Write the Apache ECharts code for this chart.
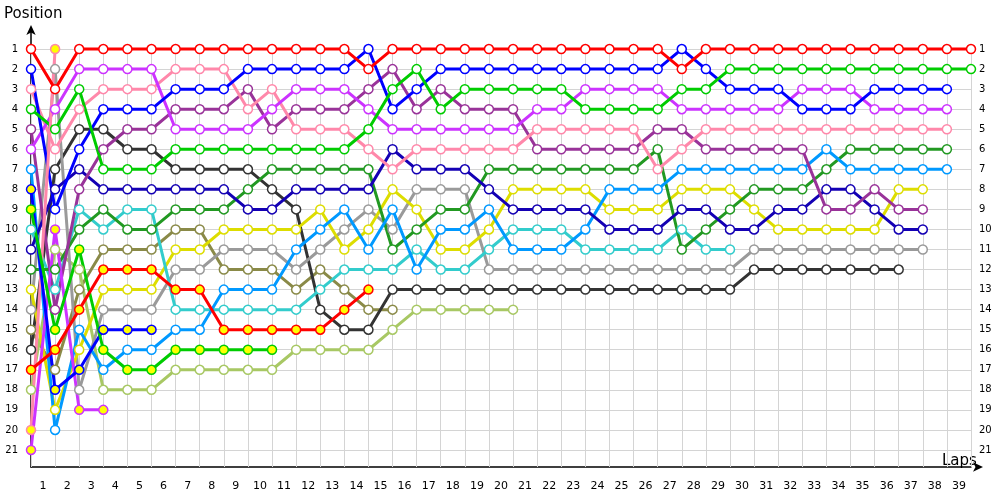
<!DOCTYPE html>
<html>
<head>
<meta charset="utf-8">
<script src="https://cdn.jsdelivr.net/npm/echarts@6/dist/echarts.min.js"></script>
<style>html,body{margin:0;padding:0;background:#fff;}#c{width:1000px;height:500px;}</style>
</head>
<body>
<div id="c"></div>
<script>
// Laps (x values of points), lap 0 = start grid
const laps = [0,1,2,3,4,5,6,7,8,9,10,11,12,13,14,15,16,17,18,19,20,21,22,23,24,25,26,27,28,29,30,31,32,33,34,35,36,37,38,39];
// Lap tick labels (centred between lap lines)
const lapLabels = ['1','2','3','4','5','6','7','8','9','10','11','12','13','14','15','16','17','18','19','20','21','22','23','24','25','26','27','28','29','30','31','32','33','34','35','36','37','38','39'];
// Position tick labels
const posLabels = [1,2,3,4,5,6,7,8,9,10,11,12,13,14,15,16,17,18,19,20,21];

// Positions per lap (index = lap), white-marker drivers
const red1   = [1,3,1,1,1,1,1,1,1,1,1,1,1,1,2,1,1,1,1,1,1,1,1,1,1,1,1,2,1,1,1,1,1,1,1,1,1,1,1,1];
const green1 = [4,5,3,7,7,7,6,6,6,6,6,6,6,6,5,3,2,4,3,3,3,3,3,4,4,4,4,3,3,2,2,2,2,2,2,2,2,2,2,2];
const blue1  = [2,9,6,4,4,4,3,3,3,2,2,2,2,2,1,4,3,2,2,2,2,2,2,2,2,2,2,1,2,3,3,3,4,4,4,3,3,3,3];
const violet1= [6,4,2,2,2,2,5,5,5,5,4,3,3,3,4,5,5,5,5,5,5,4,4,3,3,3,3,4,4,4,4,4,3,3,3,4,4,4,4];
const pink1  = [3,6,4,3,3,3,2,2,2,4,3,5,5,5,6,7,6,6,6,6,6,5,5,5,5,5,7,6,5,5,5,5,5,5,5,5,5,5,5];
const purple = [5,14,8,6,5,5,4,4,4,3,5,4,4,4,3,2,4,3,4,4,4,6,6,6,6,6,5,5,6,6,6,6,6,9,9,8,9,9];
const navy   = [11,8,7,8,8,8,8,8,8,9,9,8,8,8,8,6,7,7,7,8,9,9,9,9,10,10,10,9,9,10,10,9,9,8,8,9,10,10];
const lblue  = [7,20,15,17,16,16,15,15,13,13,13,11,10,9,11,9,12,10,10,9,11,11,11,10,8,8,8,7,7,7,7,7,7,6,7,7,7,7,7];
const dgreen = [12,12,10,9,10,10,9,9,9,8,7,7,7,7,7,11,10,9,9,7,7,7,7,7,7,7,6,11,10,9,8,8,8,7,6,6,6,6,6];
const cyan   = [10,13,9,10,9,9,14,14,14,14,14,14,13,12,12,12,11,12,12,11,10,10,10,11,11,11,11,10,11,11];
const yellow = [13,19,16,13,13,13,11,11,10,10,10,10,9,11,10,8,9,11,11,10,8,8,8,8,9,9,9,8,8,8,9,10,10,10,10,10,8,8];
const grey   = [14,2,18,14,14,14,12,12,11,11,11,12,11,10,9,10,8,8,8,12,12,12,12,12,12,12,12,12,12,12,11,11,11,11,11,11,11,11];
const black  = [16,7,5,5,6,6,7,7,7,7,8,9,14,15,15,13,13,13,13,13,13,13,13,13,13,13,13,13,13,13,12,12,12,12,12,12,12];
const olive  = [15,17,13,11,11,11,10,10,12,12,12,13,12,13,14,14];
const lgreen = [18,11,12,18,18,18,17,17,17,17,17,16,16,16,16,15,14,14,14,14,14];
// yellow-marker drivers (team-mates)
const red2   = [17,16,14,12,12,12,13,13,15,15,15,15,15,14,13];
const blue2  = [8,18,17,15,15,15];
const green2 = [9,15,11,16,17,17,16,16,16,16,16];
const violet2= [21,10,19,19];
const pink2  = [20,1];

const drivers = [
  {d: olive,   c:'#8a8a48', f:'#ffffff'},
  {d: lgreen,  c:'#a8c864', f:'#ffffff'},
  {d: black,   c:'#333333', f:'#ffffff'},
  {d: grey,    c:'#9a9a9a', f:'#ffffff'},
  {d: yellow,  c:'#dddd00', f:'#ffffff'},
  {d: cyan,    c:'#33cccc', f:'#ffffff'},
  {d: dgreen,  c:'#229922', f:'#ffffff'},
  {d: lblue,   c:'#0099ff', f:'#ffffff'},
  {d: navy,    c:'#1400b4', f:'#ffffff'},
  {d: purple,  c:'#993399', f:'#ffffff'},
  {d: pink1,   c:'#ff88aa', f:'#ffffff'},
  {d: violet1, c:'#cc33ff', f:'#ffffff'},
  {d: blue1,   c:'#0000ff', f:'#ffffff'},
  {d: green1,  c:'#00cc00', f:'#ffffff'},
  {d: pink2,   c:'#ff88aa', f:'#ffff00'},
  {d: violet2, c:'#cc33ff', f:'#ffff00'},
  {d: blue2,   c:'#0000ff', f:'#ffff00'},
  {d: green2,  c:'#00cc00', f:'#ffff00'},
  {d: red2,    c:'#ff0000', f:'#ffff00'},
  {d: red1,    c:'#ff0000', f:'#ffffff'}
];

const FONT = 'DejaVu Sans';
const GRID_TOP_POS = 0.75;   // where the vertical lap lines start
const GRID_BOTTOM_POS = 21.85;
const GRID_COLOR = '#d4d4d4';
const chart = echarts.init(document.getElementById('c'), null, {renderer:'canvas'});

const series = drivers.map(s => ({
  type: 'line',
  xAxisIndex: 0, yAxisIndex: 0,
  z: 3,
  data: s.d.map((p, i) => [laps[i], p]),
  symbol: 'circle',
  symbolSize: 9,
  showAllSymbol: true,
  lineStyle: {color: s.c, width: 3},
  itemStyle: {color: s.f, borderColor: s.c, borderWidth: 1.5},
  emphasis: {disabled: true},
  silent: true,
  animation: false
}));

// vertical lap grid lines (start slightly above position 1, like the reference)
series.unshift({
  type: 'line', xAxisIndex: 0, yAxisIndex: 0, data: [], z: 1, silent: true,
  markLine: {
    silent: true, symbol: ['none','none'], z: 1, animation: false,
    label: {show: false},
    lineStyle: {color: GRID_COLOR, width: 1, type: 'solid'},
    emphasis: {disabled: true},
    data: laps.map(l => [{coord: [l, GRID_TOP_POS]}, {coord: [l, GRID_BOTTOM_POS]}])
  }
});

// horizontal split line colours: none at position 0, grey for 1..21
const hColors = ['rgba(0,0,0,0)'].concat(posLabels.map(() => GRID_COLOR));

chart.setOption({
  animation: false,
  backgroundColor: '#ffffff',
  grid: {left: 31, right: 29, top: 29, bottom: 33, containLabel: false},
  xAxis: [
    {type: 'value', min: 0, max: 39, interval: 1, position: 'bottom',
     axisLine: {show: true, onZero: false, lineStyle: {color: '#000', width: 1.5}, symbol: ['none','arrow'], symbolSize: [7, 10], symbolOffset: [0, 12]},
     axisTick: {show: false}, axisLabel: {show: false},
     splitLine: {show: false}},
    {type: 'category', data: lapLabels, boundaryGap: true, position: 'bottom',
     axisLine: {show: false, onZero: false}, axisTick: {show: false},
     axisLabel: {show: true, interval: 0, margin: 14, fontFamily: FONT, fontSize: 11, color: '#000'},
     splitLine: {show: false}}
  ],
  yAxis: [
    {type: 'value', inverse: true, min: 0, max: GRID_BOTTOM_POS, interval: 1, position: 'left',
     axisLine: {show: true, onZero: false, lineStyle: {color: '#000', width: 1.5}, symbol: ['none','arrow'], symbolSize: [7, 10], symbolOffset: [0, 4]},
     axisTick: {show: false},
     axisLabel: {show: true, margin: 13, fontFamily: FONT, fontSize: 10, color: '#000',
       formatter: v => posLabels.indexOf(v) >= 0 ? String(v) : ''},
     splitLine: {show: true, lineStyle: {color: hColors, width: 1}}},
    {type: 'value', inverse: true, min: 0, max: GRID_BOTTOM_POS, interval: 1, position: 'right',
     axisLine: {show: false, onZero: false}, axisTick: {show: false},
     axisLabel: {show: true, margin: 8, fontFamily: FONT, fontSize: 10, color: '#000',
       formatter: v => posLabels.indexOf(v) >= 0 ? String(v) : ''},
     splitLine: {show: false}}
  ],
  graphic: [
    {type: 'text', left: 4, top: 7, style: {text: 'Position', fontFamily: FONT, fontSize: 15, fill: '#000'}},
    {type: 'text', left: 942, top: 454, style: {text: 'Laps', fontFamily: FONT, fontSize: 15, fill: '#000'}}
  ],
  series: series
});
</script>
</body>
</html>
